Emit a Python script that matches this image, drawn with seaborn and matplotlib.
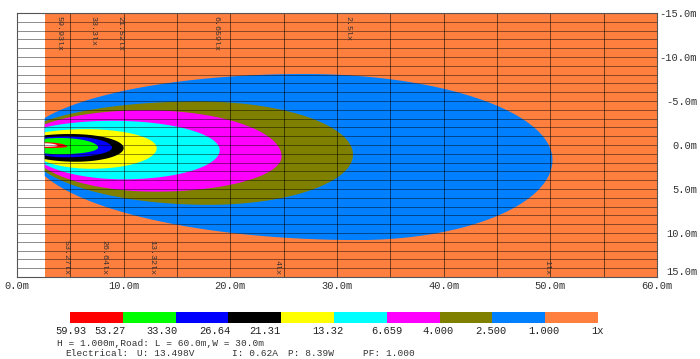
import numpy as np
import matplotlib
matplotlib.use("Agg")
import matplotlib.pyplot as plt
import seaborn as sns
from matplotlib.colors import ListedColormap

# colour scale under the plot (lx)
scale_labels = ['59.93', '53.27', '33.30', '26.64', '21.31', '13.32',
                '6.659', '4.000', '2.500', '1.000', '1x']
scale_colors = ['#ff0000', '#00ff00', '#0000ff', '#000000', '#ffff00',
                '#00ffff', '#ff00ff', '#808000', '#0080ff', '#ff7f3f']
road_color = '#ff7f3f'

# iso-lux bands, outer -> inner (metres, y grows downwards)
band_colors = ['#0080ff', '#808000', '#ff00ff', '#00ffff', '#ffff00',
               '#000000', '#0000ff', '#00ff00', '#ff0000', '#ffffff']
tip_x = [50.2, 31.5, 24.8, 19.0, 13.1, 10.0, 8.9, 7.6, 4.7, 3.8]
tip_y = [1.7, 1.1, 1.3, 0.6, 0.35, 0.35, 0.3, 0.3, 0.2, 0.1]
widest_top_x = [27, 17, 12, 9, 6.5, 5, 4.5, 4, 2.6, 2.6]
widest_top = [-8.07, -4.95, -3.95, -2.75, -1.8, -1.25, -1.0, -0.8, -0.3, -0.2]
widest_bot_x = [32, 18, 13, 10, 7, 5.5, 4.5, 4, 2.6, 2.6]
widest_bot = [10.8, 6.8, 5.3, 3.9, 2.7, 1.9, 1.4, 1.05, 0.35, 0.2]
edge_top = [-3.07, -2.7, -2.35, -2.0, -1.45, -1.1, -0.85, -0.7, -0.3, -0.2]
edge_bot = [3.52, 3.0, 2.6, 2.2, 1.85, 1.6, 1.2, 0.95, 0.35, 0.2]
edge_x = 2.6

# contour value tags
top_tags = ['59.93lx', '33.3lx', '21.52lx', '6.659lx', '2.5lx']
top_tag_x = [3.94, 7.1, 9.66, 18.6, 31.0]
bot_tags = ['53.27lx', '26.64lx', '13.32lx', '4lx', '1lx']
bot_tag_x = [4.6, 8.16, 12.66, 24.4, 49.7]

x_ticks = [0, 10, 20, 30, 40, 50, 60]
y_ticks = [-15, -10, -5, 0, 5, 10, 15]

info_line = 'H = 1.000m,Road: L = 60.0m,W = 30.0m'
electrical = ['Electrical:', 'U: 13.498V', 'I: 0.62A', 'P: 8.39W', 'PF: 1.000']


def boundary(xs, wx, ext, edge_val, base_left, tx, ty):
    # quarter ellipse from widest point to the tip, another back to the edge
    y = np.empty_like(xs)
    right = xs >= wx
    u = (xs[right] - wx) / (tx - wx)
    y[right] = ty + (ext - ty) * np.sqrt(np.clip(1 - u ** 2, 0, None))
    if wx > edge_x:
        r = (edge_val - base_left) / (ext - base_left)
        a = (wx - edge_x) / np.sqrt(1 - r ** 2)
        u = (wx - xs[~right]) / a
        y[~right] = base_left + (ext - base_left) * np.sqrt(np.clip(1 - u ** 2, 0, None))
    return y


sns.set_theme(style="white")
plt.rcParams['font.family'] = ['Liberation Mono', 'DejaVu Sans Mono']

fig = plt.figure(figsize=(7, 3.59), dpi=100)
ax = fig.add_axes([17 / 700, 1 - 277 / 359, 640 / 700, 264 / 359])

ax.axvspan(edge_x, 60, color=road_color, lw=0, zorder=0)
for i, c in enumerate(band_colors):
    t = np.linspace(0, np.pi / 2, 400)
    xs = edge_x + (tip_x[i] - edge_x) * np.sin(t)
    mid = (edge_top[i] + edge_bot[i]) / 2
    yt = boundary(xs, widest_top_x[i], widest_top[i], edge_top[i], mid, tip_x[i], tip_y[i])
    yb = boundary(xs, widest_bot_x[i], widest_bot[i], edge_bot[i], mid, tip_x[i], tip_y[i])
    ax.fill(np.r_[xs, xs[::-1]], np.r_[yt, yb[::-1]], color=c, lw=0, zorder=1)

ax.hlines(np.arange(-14, 15), 0, 60, color='black', alpha=0.45, lw=0.7, zorder=2)
ax.vlines(np.arange(5, 60, 5), -15, 15, color='black', alpha=0.55, lw=0.7, zorder=2)

for s, xv in zip(top_tags, top_tag_x):
    ax.text(xv, -14.7, s, rotation=270, ha='center', va='top', fontsize=6, color='#333333', zorder=3)
for s, xv in zip(bot_tags, bot_tag_x):
    ax.text(xv, 14.8, s, rotation=270, ha='center', va='bottom', fontsize=6, color='#333333', zorder=3)

ax.set_xlim(0, 60)
ax.set_ylim(15, -15)
ax.set_xticks(x_ticks)
ax.set_xticklabels([f'{v:.1f}m' for v in x_ticks])
ax.yaxis.tick_right()
ax.set_yticks(y_ticks)
ax.set_yticklabels([f'{v:.1f}m' for v in y_ticks])
ax.tick_params(axis='x', length=0, pad=3, labelsize=7.5, labelcolor='#333333')
ax.tick_params(axis='y', length=0, pad=29, labelsize=7.5, labelcolor='#333333')
for lab in ax.get_yticklabels():
    lab.set_horizontalalignment('right')
ax.get_yticklabels()[-1].set_verticalalignment('bottom')
for sp in ax.spines.values():
    sp.set_color('#555555')
    sp.set_linewidth(0.8)

# colour scale
cax = fig.add_axes([70 / 700, 1 - 323 / 359, 528 / 700, 11 / 359])
sns.heatmap(np.arange(len(scale_colors)).reshape(1, -1), cmap=ListedColormap(scale_colors),
            cbar=False, ax=cax, xticklabels=False, yticklabels=False)
cax.set_xticks([0.02, 0.76, 1.75, 2.75, 3.69, 4.89, 6.0, 6.98, 7.97, 8.98, 10.0])
cax.set_xticklabels(scale_labels)
cax.tick_params(axis='x', length=0, pad=2, labelsize=7.5, labelcolor='#222222', bottom=True)
for sp in cax.spines.values():
    sp.set_visible(False)

fig.text(57 / 700, 1 - 343 / 359, info_line, ha='left', va='center', fontsize=6.8, color='#333333')
for s, px in zip(electrical, [65, 137, 232, 288, 363]):
    fig.text(px / 700, 1 - 353.5 / 359, s, ha='left', va='center', fontsize=6.8, color='#333333')

fig.savefig('out.png', dpi=100)
